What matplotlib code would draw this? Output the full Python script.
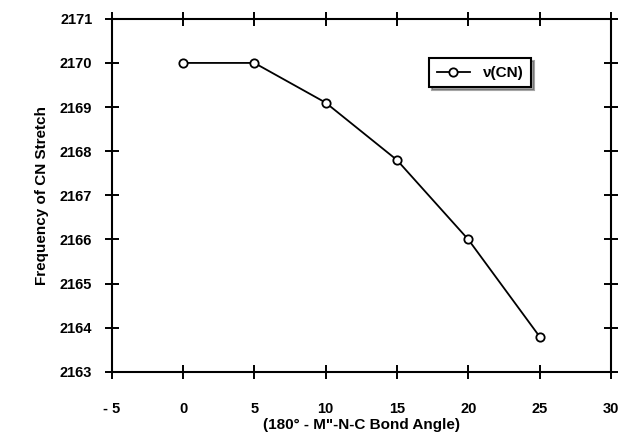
import matplotlib.pyplot as plt

# data
angle = [0, 5, 10, 15, 20, 25]
freq = [2170.0, 2170.0, 2169.1, 2167.8, 2166.0, 2163.8]
x_ticks = [-5, 0, 5, 10, 15, 20, 25, 30]
y_ticks = [2163, 2164, 2165, 2166, 2167, 2168, 2169, 2170, 2171]

plt.rcParams['font.family'] = ['Liberation Sans', 'DejaVu Sans']
plt.rcParams['font.weight'] = 'bold'

fig = plt.figure(figsize=(6.24, 4.37), dpi=100)
ax = fig.add_axes([0.179, 0.149, 0.800, 0.808])

ax.plot(angle, freq, color='black', lw=1.3, marker='o', ms=6,
        mfc='white', mec='black', mew=1.3, label='ν(CN)')

ax.set_xlim(-5, 30)
ax.set_ylim(2163, 2171)
ax.set_xticks(x_ticks)
ax.set_yticks(y_ticks)
ax.set_xticklabels([str(v).replace('-', '- ') for v in x_ticks])
ax.tick_params(direction='inout', length=10, width=1.4, labelsize=10.5,
               top=True, right=True)
ax.tick_params(axis='x', pad=17)
ax.tick_params(axis='y', pad=9)
for s in ax.spines.values():
    s.set_linewidth(1.5)

ax.set_xlabel('(180° - M"-N-C Bond Angle)', fontsize=11, fontweight='bold', labelpad=1)
ax.set_ylabel('Frequency of CN Stretch', fontsize=11, fontweight='bold', labelpad=8)

leg = ax.legend(loc='upper right', bbox_to_anchor=(0.855, 0.91), fancybox=False,
                shadow=True, edgecolor='black', fontsize=11, handlelength=2.2,
                borderpad=0.5)
leg.get_frame().set_linewidth(1.5)

plt.savefig('out.png', dpi=100)
